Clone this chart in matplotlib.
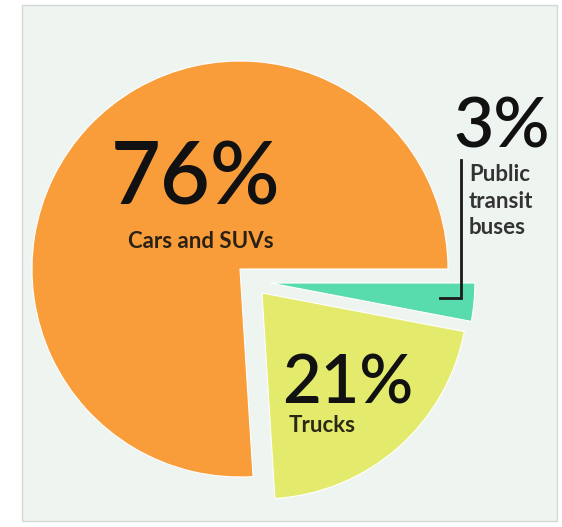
import matplotlib.pyplot as plt
from matplotlib.patches import Rectangle

# Share of transport emissions by vehicle type
labels = ['Cars and SUVs', 'Trucks', 'Public\ntransit\nbuses']
shares = [76, 21, 3]
colors = ['#f99d3b', '#e4eb6c', '#58dbad']

R = 208.0  # pie radius in pixels
cx, cy = 240.0, 269.0  # pie centre in pixels (y from top)


def px(x, y):
    """Pixel position (y from top) -> data coordinates."""
    return (x - cx) / R, (cy - y) / R


fig = plt.figure(figsize=(5.62, 5.27), dpi=100)
fig.patch.set_facecolor('white')
fig.patches.append(Rectangle((22 / 562, 6 / 527), 535 / 562, 516 / 527,
                             transform=fig.transFigure, facecolor='#eef4f0',
                             edgecolor='#d3d8d5', linewidth=1.0, zorder=-1))

ax = fig.add_axes([0, 0, 1, 1])
ax.set_facecolor('none')

wedges, _ = ax.pie(shares, colors=colors, startangle=0, counterclock=True,
                   wedgeprops=dict(edgecolor='white', linewidth=0.8))
# pull the trucks and buses slices away from the cars slice
wedges[1].set_center(px(262, 293))
wedges[1].set_radius(0.99)
wedges[2].set_center(px(270, 283))
wedges[2].set_radius(0.985)

big = dict(family=['Lato', 'DejaVu Sans'], fontweight='semibold',
           color='#111111', zorder=5)
small = dict(family=['Lato', 'DejaVu Sans'], fontweight='bold', zorder=5)

ax.text(*px(196, 180), f'{shares[0]}%', fontsize=62, ha='center', va='center', **big)
ax.text(*px(201, 241), labels[0], fontsize=16, ha='center', va='center',
        color='#2a2114', **small)

ax.text(*px(348, 384), f'{shares[1]}%', fontsize=48, ha='center', va='center', **big)
ax.text(*px(289, 425), labels[1], fontsize=16, ha='left', va='center',
        color='#2a2a14', **small)

ax.text(*px(502, 128), f'{shares[2]}%', fontsize=50, ha='center', va='center', **big)
ax.text(*px(469, 201), labels[2], fontsize=16, ha='left', va='center',
        color='#333333', linespacing=1.3, **small)

# leader line to the buses slice
lx, ly = zip(px(440, 298), px(461, 298), px(461, 160))
ax.plot(lx, ly, color='#1a1a1a', linewidth=2.0, zorder=6,
        solid_joinstyle='miter')

ax.set_xlim(-cx / R, (562 - cx) / R)
ax.set_ylim(-(527 - cy) / R, cy / R)
ax.set_aspect('auto')
ax.axis('off')

fig.savefig('out.png', dpi=100, facecolor=fig.get_facecolor())
